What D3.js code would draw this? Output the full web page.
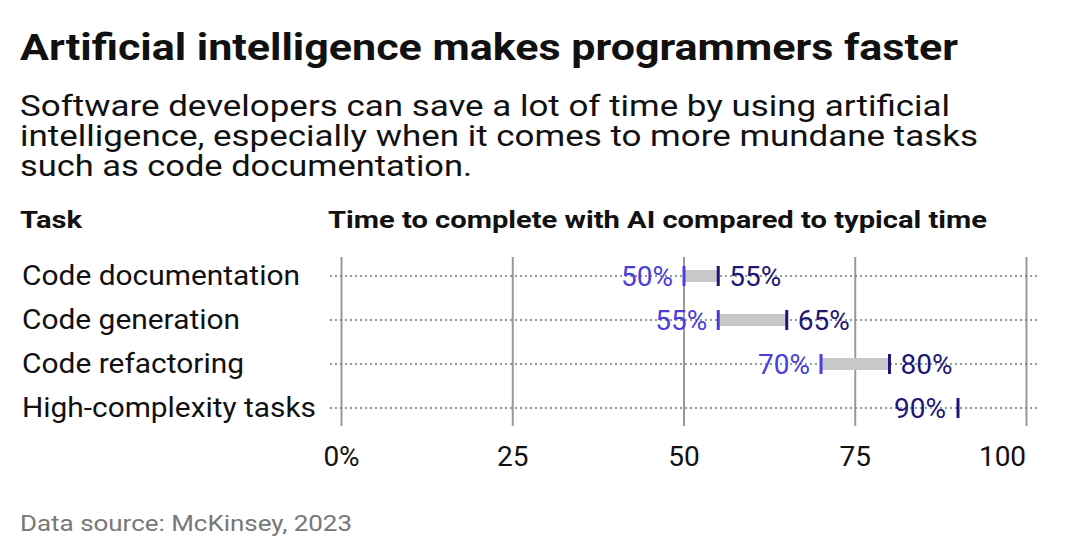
<!DOCTYPE html>
<html><head><meta charset="utf-8">
<script src="https://cdn.jsdelivr.net/npm/d3@7"></script>
<style>body{margin:0;background:#fff;font-family:Roboto,sans-serif}</style>
</head><body><svg id="c" width="1080" height="560"></svg>
<script>
const tasks = ["Code documentation","Code generation","Code refactoring","High-complexity tasks"];
const lowVals = [50,55,70,null];
const highVals = [55,65,80,90];
const tickVals = [0,25,50,75,100];
const tickLabels = ["0%","25","50","75","100"];

const svg = d3.select("#c");
const x = d3.scaleLinear().domain([0,100]).range([341.5,1026.5]);
const y = d3.scalePoint().domain(tasks).range([276,408]);
const light = "#4b3fdc", dark = "#1d1778";
const fit = (sel,w)=>sel.attr("textLength",w).attr("lengthAdjust","spacingAndGlyphs");

fit(svg.append("text").attr("x",20).attr("y",60).attr("font-size",36).attr("font-weight",700).attr("fill","#111")
  .text("Artificial intelligence makes programmers faster"),938);
const sub = ["Software developers can save a lot of time by using artificial","intelligence, especially when it comes to more mundane tasks","such as code documentation."];
const subW = [930,958,452];
sub.forEach((s,i)=>fit(svg.append("text").attr("x",20).attr("y",116+i*30).attr("font-size",29).attr("fill","#111").text(s),subW[i]));
fit(svg.append("text").attr("x",20).attr("y",228).attr("font-size",23).attr("font-weight",700).attr("fill","#111").text("Task"),62);
fit(svg.append("text").attr("x",328).attr("y",228).attr("font-size",23).attr("font-weight",700).attr("fill","#111").text("Time to complete with AI compared to typical time"),659);

svg.selectAll(".vg").data(tickVals).join("line").attr("x1",d=>x(d)).attr("x2",d=>x(d))
  .attr("y1",257).attr("y2",426).attr("stroke","#999").attr("stroke-width",2);
svg.selectAll(".hg").data(tasks).join("line").attr("x1",330).attr("x2",1037)
  .attr("y1",d=>y(d)).attr("y2",d=>y(d)).attr("stroke","#777").attr("stroke-width",1.5).attr("stroke-dasharray","2,3");
svg.selectAll(".tl").data(tickVals).join("text").attr("x",d=>d===100?x(d)-24:x(d)).attr("y",466).attr("text-anchor","middle")
  .attr("font-size",28).attr("fill","#111").text((d,i)=>tickLabels[i]);
const taskW = [278,218,222,294];
svg.selectAll(".cl").data(tasks).join("text").attr("x",22).attr("y",d=>y(d)+9).attr("font-size",27).attr("fill","#111")
  .attr("textLength",(d,i)=>taskW[i]).attr("lengthAdjust","spacingAndGlyphs").text(d=>d);

tasks.forEach((t,i)=>{
  const cy=y(t), lo=lowVals[i], hi=highVals[i];
  if(lo!=null){
    svg.append("rect").attr("x",x(lo)).attr("width",x(hi)-x(lo)).attr("y",cy-6).attr("height",12).attr("fill","#c8c8c8");
    svg.append("rect").attr("x",x(lo)-1.5).attr("width",3).attr("y",cy-10).attr("height",20).attr("fill",light);
    svg.append("text").attr("x",x(lo)-11).attr("y",cy+10).attr("text-anchor","end").attr("font-size",28).attr("fill",light).text(lo+"%");
    svg.append("text").attr("x",x(hi)+11).attr("y",cy+10).attr("font-size",28).attr("fill",dark).text(hi+"%");
  } else {
    svg.append("text").attr("x",x(hi)-12).attr("y",cy+10).attr("text-anchor","end").attr("font-size",28).attr("fill",dark).text(hi+"%");
  }
  svg.append("rect").attr("x",x(hi)-1.5).attr("width",3).attr("y",cy-10).attr("height",20).attr("fill",dark);
});

fit(svg.append("text").attr("x",20).attr("y",531).attr("font-size",22).attr("fill","#777").text("Data source: McKinsey, 2023"),332);
</script></body></html>
